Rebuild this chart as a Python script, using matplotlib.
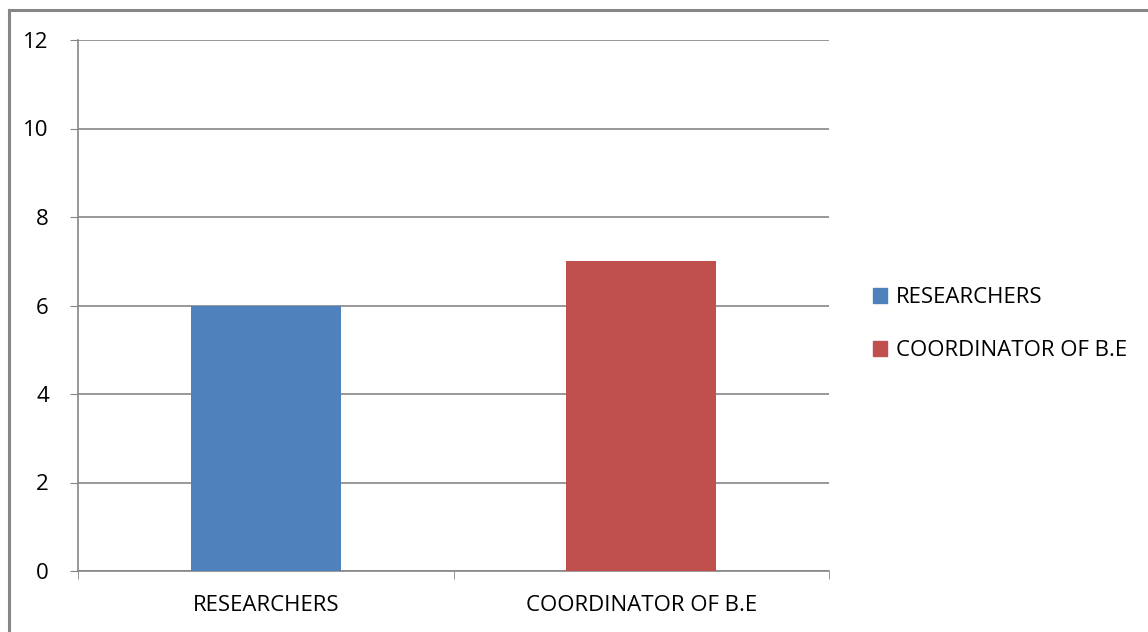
import matplotlib.pyplot as plt
from matplotlib.patches import Rectangle

categories = ['RESEARCHERS', 'COORDINATOR OF B.E']
values = [6, 7]
colors = ['#4F81BD', '#C0504D']
yticks = [0, 2, 4, 6, 8, 10, 12]

plt.rcParams['font.family'] = ['Open Sans', 'DejaVu Sans']
GRID = '#868686'

fig = plt.figure(figsize=(11.48, 6.32), dpi=100)
ax = fig.add_axes([78 / 1148, 61 / 632, 751 / 1148, 531 / 632])

x = range(len(categories))
bars = ax.bar(x, values, width=0.4, color=colors, zorder=3)

ax.set_xlim(-0.5, len(categories) - 0.5)
ax.set_ylim(0, 12)
ax.set_yticks(yticks)
ax.set_yticklabels([str(v) for v in yticks], fontsize=16)
ax.set_xticks(list(x))
ax.set_xticklabels(categories, fontsize=16)
ax.tick_params(axis='x', length=0, pad=17)
ax.tick_params(axis='y', length=6, color=GRID, pad=15)
ax.set_xticks([-0.5, 0.5, 1.5], minor=True)
ax.tick_params(axis='x', which='minor', length=6, color=GRID)

ax.grid(axis='y', color=GRID, lw=1.2, zorder=0)
for s in ['top', 'right']:
    ax.spines[s].set_visible(False)
for s in ['left', 'bottom']:
    ax.spines[s].set_color(GRID)
    ax.spines[s].set_linewidth(1.2)

handles = [Rectangle((0, 0), 1, 1, color=c) for c in colors]
fig.legend(handles, categories, loc='center left', bbox_to_anchor=(853 / 1148, 1 - 324 / 632),
           frameon=False, fontsize=16, handlelength=0.65, handleheight=0.65,
           handletextpad=0.4, labelspacing=1.45)

# outer chart border (only top and left visible in the crop)
fig.add_artist(plt.Line2D([9 / 1148, 1], [1 - 10 / 632, 1 - 10 / 632], color=GRID, lw=2.2))
fig.add_artist(plt.Line2D([9 / 1148, 9 / 1148], [0, 1 - 10 / 632], color=GRID, lw=2.2))

fig.savefig('out.png', dpi=100)
